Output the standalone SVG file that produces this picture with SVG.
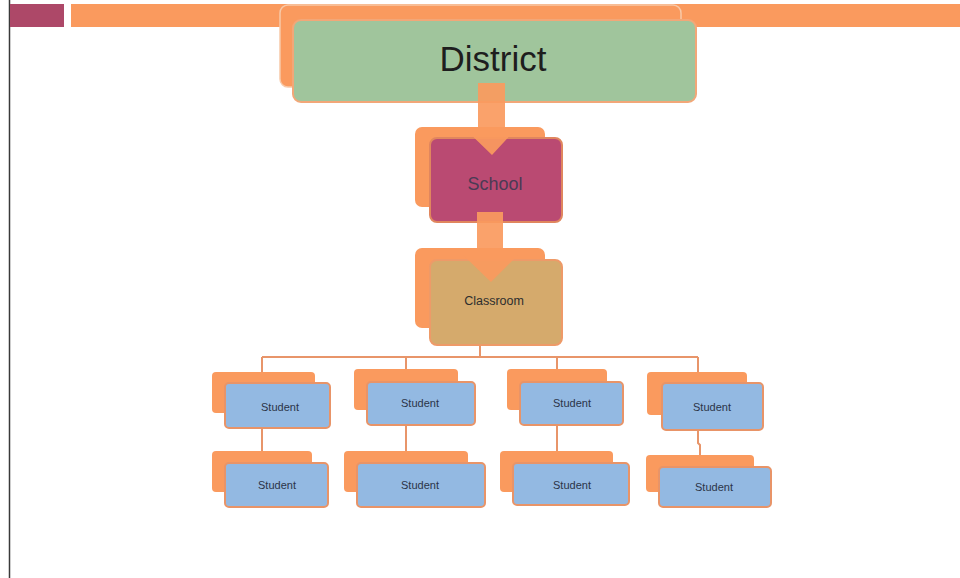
<svg xmlns="http://www.w3.org/2000/svg" width="960" height="578" viewBox="0 0 960 578">
<defs>
<style>
.back{fill:#FA9A5E;}
.bk{fill:#FA9A5E;stroke:#F7C9A8;stroke-width:1.5;}
.stu{fill:#93B9E2;stroke:#E89468;stroke-width:2;}
.stxt{font-family:"Liberation Sans",Arial,sans-serif;font-size:11px;fill:#2B3448;text-anchor:middle;}
.conn{stroke:#E8956A;stroke-width:2;fill:none;}
.arrow{fill:#FA9A5E;fill-opacity:0.92;}
</style>
</defs>
<rect width="960" height="578" fill="#FFFFFF"/>
<line x1="9.5" y1="0" x2="9.5" y2="578" stroke="#3A3A3A" stroke-width="1.5"/>
<rect x="10" y="4" width="54" height="23" fill="#AD4868"/>
<rect x="71" y="4" width="889" height="23" fill="#FA9A5E"/>

<g id="connectors">
<line class="conn" x1="480" y1="344" x2="480" y2="357"/>
<line class="conn" x1="262" y1="357" x2="698" y2="357"/>
<line class="conn" x1="262" y1="357" x2="262" y2="373"/>
<line class="conn" x1="406" y1="357" x2="406" y2="370"/>
<line class="conn" x1="557" y1="357" x2="557" y2="370"/>
<line class="conn" x1="698" y1="357" x2="698" y2="373"/>
<line class="conn" x1="262" y1="428" x2="262" y2="452"/>
<line class="conn" x1="406" y1="425" x2="406" y2="452"/>
<line class="conn" x1="557" y1="425" x2="557" y2="452"/>
<polyline class="conn" points="698,430 698,443 700,445 700,456"/>
</g>

<g id="district">
<rect class="bk" x="280" y="5" width="401" height="82" rx="8"/>
<rect x="293" y="20" width="403" height="82" rx="8" fill="#A0C59C" stroke="#F2A778" stroke-width="2"/>
<text x="493" y="71" font-family="Liberation Sans,Arial,sans-serif" font-size="35" fill="#1E1E1E" text-anchor="middle">District</text>
</g>

<g id="school">
<rect class="back" x="415" y="127" width="130" height="80" rx="7"/>
<rect x="430" y="138" width="132" height="84" rx="7" fill="#BA4A72" stroke="#E0865E" stroke-width="2"/>
<text x="495" y="190" font-family="Liberation Sans,Arial,sans-serif" font-size="18" fill="#4B3A55" text-anchor="middle">School</text>
</g>

<g id="classroom">
<rect class="back" x="415" y="248" width="130" height="80" rx="7"/>
<rect x="430" y="260" width="132" height="85" rx="7" fill="#D5AA6C" stroke="#EE9A68" stroke-width="2"/>
<text x="494" y="305" font-family="Liberation Sans,Arial,sans-serif" font-size="12.5" fill="#2E2E2E" text-anchor="middle">Classroom</text>
</g>

<g id="arrows">
<polygon class="arrow" points="478,83 505,83 505,127 518,127 492,155 463,127 478,127"/>
<polygon class="arrow" points="477,212 503,212 503,255 518,255 491,282 463,255 477,255"/>
</g>

<g id="student-1-1">
<rect class="back" x="212" y="372" width="103" height="41" rx="4"/>
<rect class="stu" x="225" y="383" width="105" height="45" rx="4"/>
<text class="stxt" x="280" y="411">Student</text>
</g>
<g id="student-2-1">
<rect class="back" x="354" y="369" width="104" height="41" rx="4"/>
<rect class="stu" x="367" y="382" width="108" height="43" rx="4"/>
<text class="stxt" x="420" y="407">Student</text>
</g>
<g id="student-3-1">
<rect class="back" x="507" y="369" width="100" height="41" rx="4"/>
<rect class="stu" x="520" y="382" width="103" height="43" rx="4"/>
<text class="stxt" x="572" y="407">Student</text>
</g>
<g id="student-4-1">
<rect class="back" x="647" y="372" width="100" height="43" rx="4"/>
<rect class="stu" x="662" y="383" width="101" height="47" rx="4"/>
<text class="stxt" x="712" y="411">Student</text>
</g>

<g id="student-1-2">
<rect class="back" x="212" y="451" width="100" height="41" rx="4"/>
<rect class="stu" x="225" y="463" width="103" height="44" rx="4"/>
<text class="stxt" x="277" y="489">Student</text>
</g>
<g id="student-2-2">
<rect class="back" x="344" y="451" width="124" height="41" rx="4"/>
<rect class="stu" x="357" y="463" width="128" height="44" rx="4"/>
<text class="stxt" x="420" y="489">Student</text>
</g>
<g id="student-3-2">
<rect class="back" x="500" y="451" width="113" height="41" rx="4"/>
<rect class="stu" x="513" y="463" width="116" height="42" rx="4"/>
<text class="stxt" x="572" y="489">Student</text>
</g>
<g id="student-4-2">
<rect class="back" x="646" y="455" width="108" height="37" rx="4"/>
<rect class="stu" x="659" y="467" width="112" height="40" rx="4"/>
<text class="stxt" x="714" y="491">Student</text>
</g>
</svg>
